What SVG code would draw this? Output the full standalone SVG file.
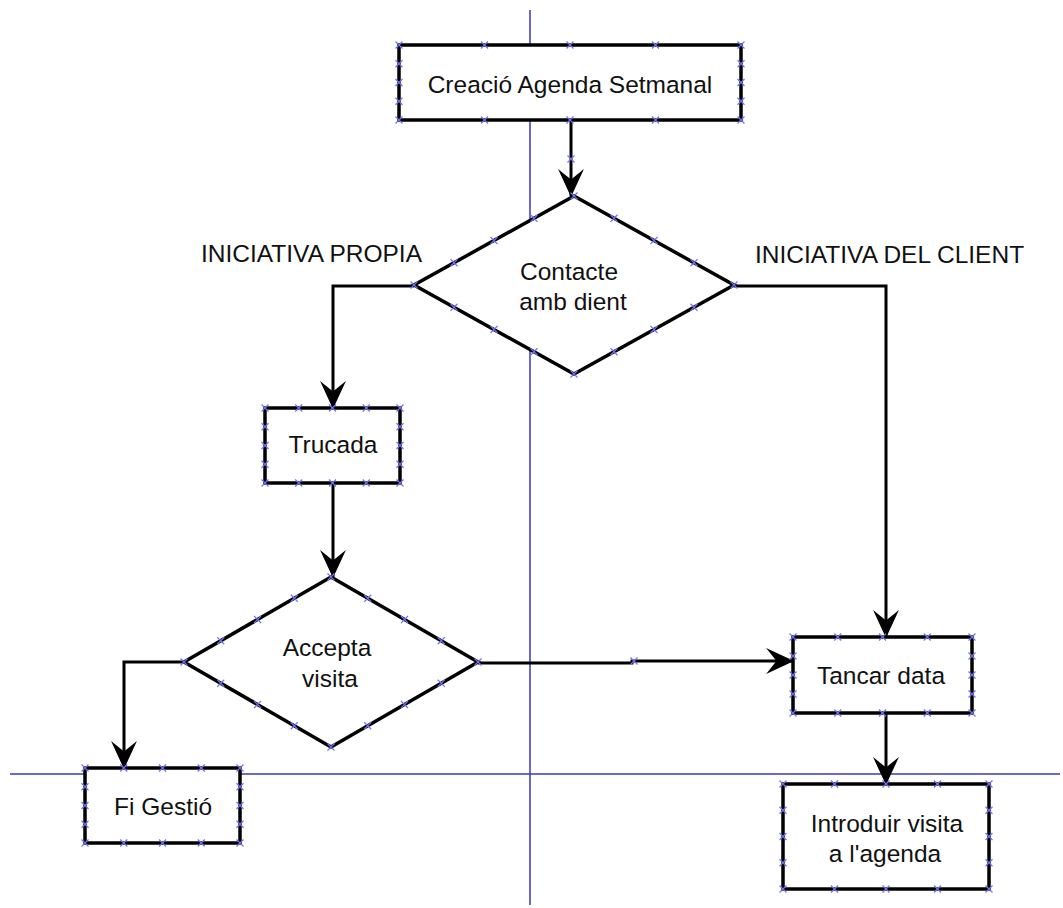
<svg xmlns="http://www.w3.org/2000/svg" xmlns:xlink="http://www.w3.org/1999/xlink" width="1063" height="908" viewBox="0 0 1063 908">
  <style>
    .guide { stroke: #3838b8; stroke-width: 1.5; fill: none; }
    .shape { fill: #ffffff; stroke: #000000; stroke-width: 3.5; stroke-linejoin: miter; }
    .conn { fill: none; stroke: #000000; stroke-width: 3; marker-end: url(#arrow); }
    .label { font-family: "Liberation Sans", Arial, sans-serif; font-size: 24.5px; fill: #111111; text-anchor: middle; }
    .caption { font-family: "Liberation Sans", Arial, sans-serif; font-size: 24.5px; fill: #111111; }
  </style>
  <defs>
    <marker id="arrow" markerUnits="userSpaceOnUse" markerWidth="30" markerHeight="30" viewBox="-27 -14 29 28" refX="0" refY="0" orient="auto">
      <path d="M1,0 L-26,-12.5 L-16,0 L-26,12.5 Z" fill="#000000"/>
    </marker>
    <path id="x" d="M-3.5,-3.5 L3.5,3.5 M-3.5,3.5 L3.5,-3.5" stroke="#7272f2" stroke-width="1.2" fill="none"/>
  </defs>

  <rect width="1063" height="908" fill="#ffffff"/>

  <!-- guide lines -->
  <g id="guides">
    <line class="guide" x1="530" y1="10" x2="530" y2="905"/>
    <line class="guide" x1="10" y1="774" x2="1060" y2="774"/>
  </g>

  <!-- connectors -->
  <g id="connectors">
    <path class="conn" d="M571,120 V196"/>
    <path class="conn" d="M414,286 H333 V408"/>
    <path class="conn" d="M734,286 H886 V637"/>
    <path class="conn" d="M333,483 V577"/>
    <path class="conn" d="M184,662 H124 V768"/>
    <path class="conn" d="M478,663 H632 V661 H793"/>
    <path class="conn" d="M886,713 V784"/>
    <use href="#x" x="571" y="159"/>
    <use href="#x" x="634" y="661"/>
  </g>

  <!-- edge labels -->
  <g id="edge-labels">
    <text class="caption" x="201" y="262">INICIATIVA PROPIA</text>
    <text class="caption" x="755" y="263">INICIATIVA DEL CLIENT</text>
  </g>

  <g id="creacio">
    <rect class="shape" x="399" y="45" width="342" height="75"/>
    <text class="label" x="570" y="93">Creació Agenda Setmanal</text>
    <g>
      <use href="#x" x="399" y="45"/><use href="#x" x="484.5" y="45"/><use href="#x" x="570" y="45"/><use href="#x" x="655.5" y="45"/><use href="#x" x="741" y="45"/>
      <use href="#x" x="399" y="120"/><use href="#x" x="484.5" y="120"/><use href="#x" x="570" y="120"/><use href="#x" x="655.5" y="120"/><use href="#x" x="741" y="120"/>
      <use href="#x" x="399" y="63.75"/><use href="#x" x="399" y="82.5"/><use href="#x" x="399" y="101.25"/>
      <use href="#x" x="741" y="63.75"/><use href="#x" x="741" y="82.5"/><use href="#x" x="741" y="101.25"/>
    </g>
  </g>

  <g id="contacte">
    <polygon class="shape" points="574,196 734,285 574,374 414,285"/>
    <text class="label" x="569" y="280">Contacte</text>
    <text class="label" x="573" y="310">amb dient</text>
    <g>
      <use href="#x" x="574" y="196"/><use href="#x" x="734" y="285"/><use href="#x" x="574" y="374"/><use href="#x" x="414" y="285"/>
      <use href="#x" x="614" y="218.25"/><use href="#x" x="654" y="240.5"/><use href="#x" x="694" y="262.75"/>
      <use href="#x" x="694" y="307.25"/><use href="#x" x="654" y="329.5"/><use href="#x" x="614" y="351.75"/>
      <use href="#x" x="534" y="351.75"/><use href="#x" x="494" y="329.5"/><use href="#x" x="454" y="307.25"/>
      <use href="#x" x="454" y="262.75"/><use href="#x" x="494" y="240.5"/><use href="#x" x="534" y="218.25"/>
    </g>
  </g>

  <g id="trucada">
    <rect class="shape" x="265" y="408" width="135" height="75"/>
    <text class="label" x="333" y="453">Trucada</text>
    <g>
      <use href="#x" x="265" y="408"/><use href="#x" x="298.75" y="408"/><use href="#x" x="332.5" y="408"/><use href="#x" x="366.25" y="408"/><use href="#x" x="400" y="408"/>
      <use href="#x" x="265" y="483"/><use href="#x" x="298.75" y="483"/><use href="#x" x="332.5" y="483"/><use href="#x" x="366.25" y="483"/><use href="#x" x="400" y="483"/>
      <use href="#x" x="265" y="426.75"/><use href="#x" x="265" y="445.5"/><use href="#x" x="265" y="464.25"/>
      <use href="#x" x="400" y="426.75"/><use href="#x" x="400" y="445.5"/><use href="#x" x="400" y="464.25"/>
    </g>
  </g>

  <g id="accepta">
    <polygon class="shape" points="331,577 478,662 331,747 184,662"/>
    <text class="label" x="327" y="656">Accepta</text>
    <text class="label" x="330" y="687">visita</text>
    <g>
      <use href="#x" x="331" y="577"/><use href="#x" x="478" y="662"/><use href="#x" x="331" y="747"/><use href="#x" x="184" y="662"/>
      <use href="#x" x="367.75" y="598.25"/><use href="#x" x="404.5" y="619.5"/><use href="#x" x="441.25" y="640.75"/>
      <use href="#x" x="441.25" y="683.25"/><use href="#x" x="404.5" y="704.5"/><use href="#x" x="367.75" y="725.75"/>
      <use href="#x" x="294.25" y="725.75"/><use href="#x" x="257.5" y="704.5"/><use href="#x" x="220.75" y="683.25"/>
      <use href="#x" x="220.75" y="640.75"/><use href="#x" x="257.5" y="619.5"/><use href="#x" x="294.25" y="598.25"/>
    </g>
  </g>

  <g id="fi-gestio">
    <rect class="shape" x="85" y="768" width="155" height="75"/>
    <text class="label" x="163" y="815">Fi Gestió</text>
    <g>
      <use href="#x" x="85" y="768"/><use href="#x" x="123.75" y="768"/><use href="#x" x="162.5" y="768"/><use href="#x" x="201.25" y="768"/><use href="#x" x="240" y="768"/>
      <use href="#x" x="85" y="843"/><use href="#x" x="123.75" y="843"/><use href="#x" x="162.5" y="843"/><use href="#x" x="201.25" y="843"/><use href="#x" x="240" y="843"/>
      <use href="#x" x="85" y="786.75"/><use href="#x" x="85" y="805.5"/><use href="#x" x="85" y="824.25"/>
      <use href="#x" x="240" y="786.75"/><use href="#x" x="240" y="805.5"/><use href="#x" x="240" y="824.25"/>
    </g>
  </g>

  <g id="tancar-data">
    <rect class="shape" x="793" y="637" width="179" height="76"/>
    <text class="label" x="881" y="684">Tancar data</text>
    <g>
      <use href="#x" x="793" y="637"/><use href="#x" x="837.75" y="637"/><use href="#x" x="882.5" y="637"/><use href="#x" x="927.25" y="637"/><use href="#x" x="972" y="637"/>
      <use href="#x" x="793" y="713"/><use href="#x" x="837.75" y="713"/><use href="#x" x="882.5" y="713"/><use href="#x" x="927.25" y="713"/><use href="#x" x="972" y="713"/>
      <use href="#x" x="793" y="656"/><use href="#x" x="793" y="675"/><use href="#x" x="793" y="694"/>
      <use href="#x" x="972" y="656"/><use href="#x" x="972" y="675"/><use href="#x" x="972" y="694"/>
    </g>
  </g>

  <g id="introduir">
    <rect class="shape" x="783" y="784" width="206" height="105"/>
    <text class="label" x="887" y="832">Introduir visita</text>
    <text class="label" x="885" y="862">a l'agenda</text>
    <g>
      <use href="#x" x="783" y="784"/><use href="#x" x="834.5" y="784"/><use href="#x" x="886" y="784"/><use href="#x" x="937.5" y="784"/><use href="#x" x="989" y="784"/>
      <use href="#x" x="783" y="889"/><use href="#x" x="834.5" y="889"/><use href="#x" x="886" y="889"/><use href="#x" x="937.5" y="889"/><use href="#x" x="989" y="889"/>
      <use href="#x" x="783" y="810.25"/><use href="#x" x="783" y="836.5"/><use href="#x" x="783" y="862.75"/>
      <use href="#x" x="989" y="810.25"/><use href="#x" x="989" y="836.5"/><use href="#x" x="989" y="862.75"/>
    </g>
  </g>
</svg>
